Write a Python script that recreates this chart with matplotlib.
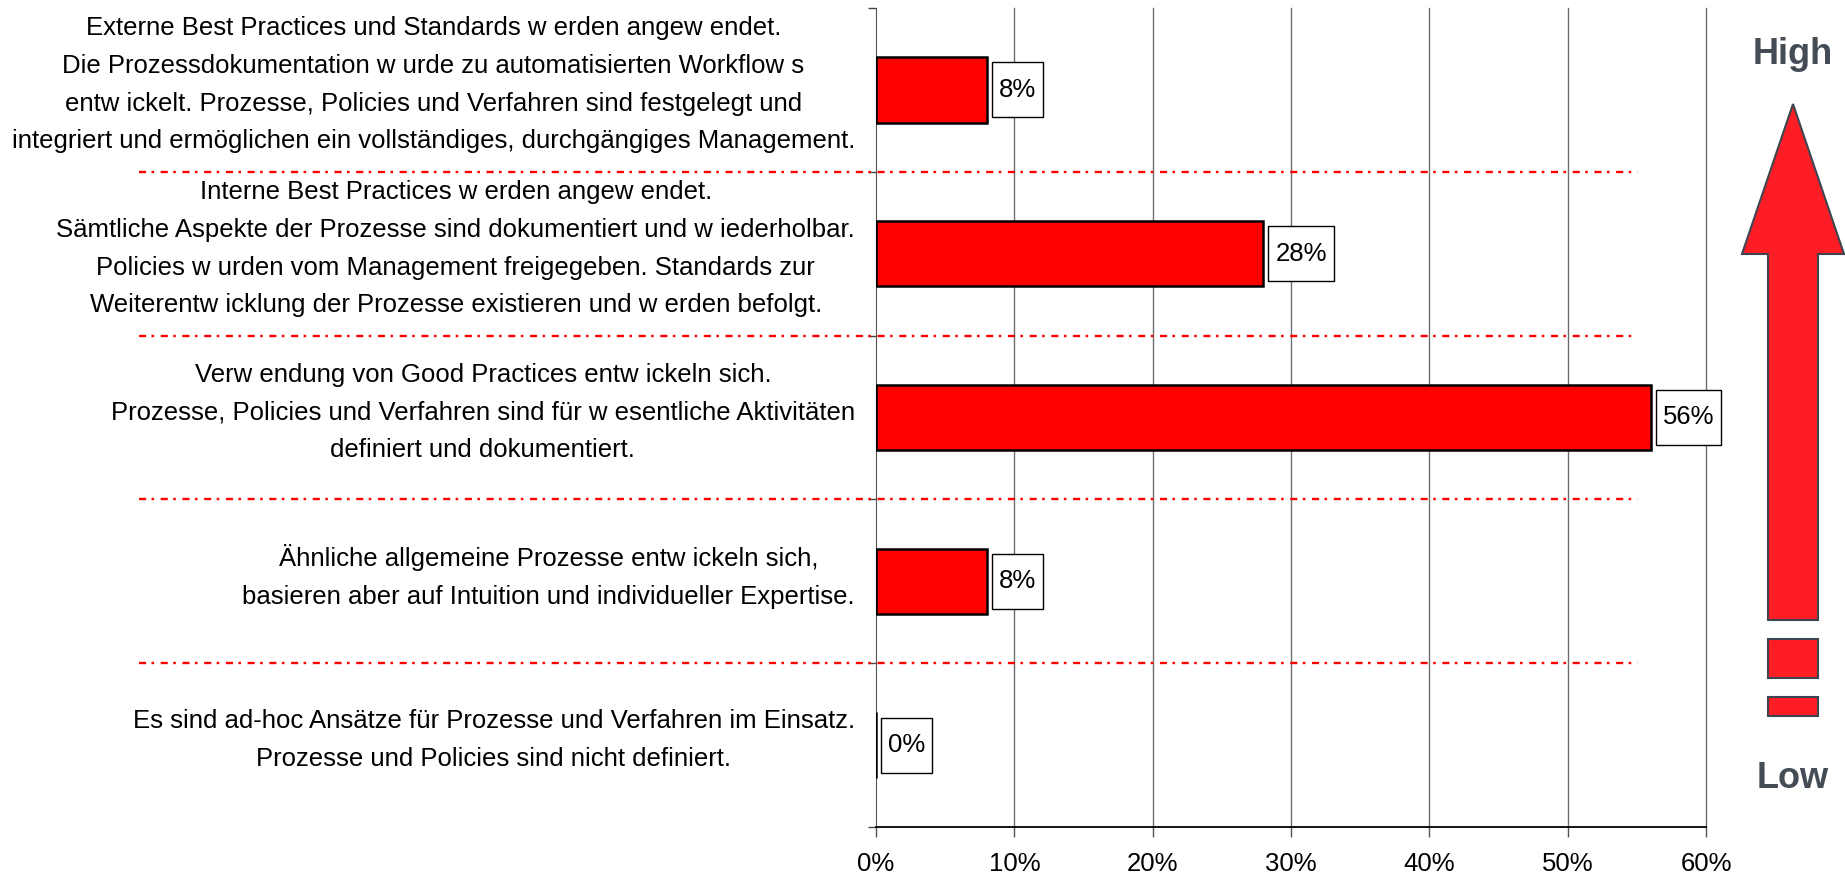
import matplotlib
matplotlib.use("Agg")
import matplotlib.pyplot as plt
from matplotlib.patches import Polygon, Rectangle
from matplotlib.path import Path
from matplotlib.ticker import FuncFormatter

plt.rcParams['font.family'] = ['Liberation Sans', 'DejaVu Sans']

categories = [
    "Externe Best Practices und Standards w erden angew endet.\n"
    "Die Prozessdokumentation w urde zu automatisierten Workflow s\n"
    "entw ickelt. Prozesse, Policies und Verfahren sind festgelegt und\n"
    "integriert und ermöglichen ein vollständiges, durchgängiges Management.",
    "Interne Best Practices w erden angew endet.\n"
    "Sämtliche Aspekte der Prozesse sind dokumentiert und w iederholbar.\n"
    "Policies w urden vom Management freigegeben. Standards zur\n"
    "Weiterentw icklung der Prozesse existieren und w erden befolgt.",
    "Verw endung von Good Practices entw ickeln sich.\n"
    "Prozesse, Policies und Verfahren sind für w esentliche Aktivitäten\n"
    "definiert und dokumentiert.",
    "Ähnliche allgemeine Prozesse entw ickeln sich,\n"
    "basieren aber auf Intuition und individueller Expertise.",
    "Es sind ad-hoc Ansätze für Prozesse und Verfahren im Einsatz.\n"
    "Prozesse und Policies sind nicht definiert.",
]
values = [8, 28, 56, 8, 0]
xticks = [0, 10, 20, 30, 40, 50, 60]
scale_top = "High"
scale_bottom = "Low"

W, H = 1845, 874
fig = plt.figure(figsize=(W / 100, H / 100), dpi=100)

def fx(px):
    return px / W

def fy(py):
    return 1 - py / H

ax = fig.add_axes([fx(876), fy(827), fx(1706) - fx(876), fy(8) - fy(827)])

n = len(categories)
ypos = [i + 0.5 for i in range(n)]
ax.barh(ypos, values, height=0.4, color='#FF0000', edgecolor='black',
        linewidth=1.8, zorder=3)
ax.set_xlim(0, 60)
ax.set_ylim(n, 0)

# grid
ax.set_xticks(xticks)
ax.xaxis.set_major_formatter(FuncFormatter(lambda v, p: f"{v:.0f}%"))
for v in xticks[1:]:
    ax.axvline(v, color='#6e6e6e', linewidth=1.0, zorder=1, clip_on=False)

ax.set_yticks(range(n + 1))
ax.set_yticklabels([])
ax.tick_params(axis='y', direction='out', length=6, color='#444444', width=1)
ax.tick_params(axis='x', direction='out', length=7, color='#555555', width=1,
               labelsize=18.5, pad=11)

for s in ['top', 'right']:
    ax.spines[s].set_visible(False)
ax.spines['left'].set_color('#555555')
ax.spines['bottom'].set_color('black')
ax.spines['bottom'].set_linewidth(1.3)

# category labels
for y, lab in zip(ypos, categories):
    ax.annotate(lab, xy=(0, y), xycoords='data', xytext=(-21, 5),
                textcoords='offset pixels', ha='right', va='center',
                multialignment='center', fontsize=18.5, linespacing=1.72,
                annotation_clip=False)


def label_box(x0, y0, width, height, mutation_size):
    px = 7.0
    py = (55.0 - height) / 2.0
    xa, xb = x0 - px, x0 + width + px
    ya, yb = y0 - py, y0 + height + py
    return Path([(xa, ya), (xb, ya), (xb, yb), (xa, yb), (xa, ya)],
                closed=True)


# value labels
for y, v in zip(ypos, values):
    ax.annotate(f"{v}%", xy=(v, y), xycoords='data', xytext=(12, 0),
                textcoords='offset pixels', ha='left', va='center',
                fontsize=18.5, zorder=5,
                bbox=dict(boxstyle=label_box, fc='white', ec='black', lw=1))

# dash-dot separators
for b in range(1, n):
    ax.plot([-53.3, 55.1], [b, b], color='#FF0000', linewidth=1.7,
            dashes=(3.0, 2.3, 1.1, 2.8), clip_on=False, zorder=4)

# High / Low arrow
edge = '#3d4550'
red = '#FF1D25'
arrow = Polygon([(fx(1793), fy(104)), (fx(1844), fy(254)), (fx(1818), fy(254)),
                 (fx(1818), fy(620)), (fx(1768), fy(620)), (fx(1768), fy(254)),
                 (fx(1742), fy(254))], closed=True, transform=fig.transFigure,
                fc=red, ec=edge, lw=1.5)
fig.patches.append(arrow)
for top, bot in [(639, 678), (697, 716)]:
    fig.patches.append(Rectangle((fx(1768), fy(bot)), fx(1818) - fx(1768),
                                 fy(top) - fy(bot), transform=fig.transFigure,
                                 fc=red, ec=edge, lw=1.5))
fig.text(fx(1793), fy(54), scale_top, ha='center', va='center', fontsize=26,
         fontweight='bold', color='#444c56')
fig.text(fx(1793), fy(779), scale_bottom, ha='center', va='center', fontsize=26,
         fontweight='bold', color='#444c56')

fig.savefig('out.png', dpi=100, facecolor='white')
